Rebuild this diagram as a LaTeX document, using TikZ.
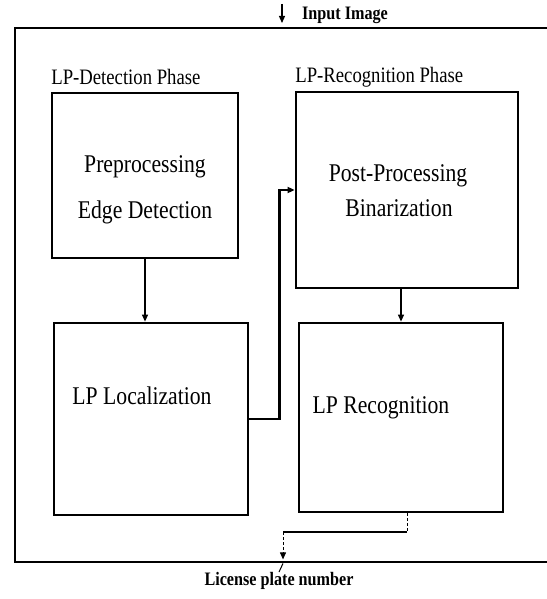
\documentclass[tikz,border=0pt]{standalone}
\usepackage{fontspec}
\setmainfont[FakeStretch=0.85]{Liberation Serif}
\usetikzlibrary{arrows.meta}

\tikzset{every picture/.style={line width=0.75pt}}

\begin{document}
\begin{tikzpicture}[x=1pt,y=1pt,yscale=-1,xscale=1,
  stage/.style={draw,line width=2.8pt,inner sep=0pt},
  boxtext/.style={inner sep=0pt,font=\fontsize{25.5}{30}\selectfont},
  phasetext/.style={anchor=west,inner sep=0pt,font=\fontsize{22}{26}\selectfont},
  iotext/.style={inner sep=0pt,font=\fontsize{19}{23}\selectfont\bfseries},
  tip/.style={-{Triangle[length=7pt,width=6pt]}}]
\useasboundingbox (0,0) rectangle (546,599);

%Shape: Rectangle [outer frame, runs past the right margin]
\node[draw,line width=2.4pt,minimum width=620,minimum height=534,anchor=north west] (frame) at (14,27) {};
%Shape: Rectangle [detection boxes]
\node[stage,minimum width=186,minimum height=165] (det) at (145,175.5) {};
\node[stage,minimum width=194,minimum height=192] (loc) at (151,419) {};
%Shape: Rectangle [recognition boxes]
\node[stage,minimum width=222,minimum height=196] (post) at (407,190) {};
\node[stage,minimum width=204,minimum height=189] (recog) at (401,417.5) {};

% Text Node
\node[phasetext] (dphase) at (51,77) {LP-Detection Phase};
% Text Node
\node[phasetext] (rphase) at (295,77) {LP-Recognition Phase};
% Text Node
\node[boxtext] (pre) at (145,167) {Preprocessing};
% Text Node
\node[boxtext] (edge) at (145,212) {Edge Detection};
% Text Node
\node[boxtext] (postt) at (398,176) {Post-Processing};
% Text Node
\node[boxtext] (bin) at (399,208) {Binarization};
% Text Node
\node[boxtext] (loct) at (142,396) {LP Localization};
% Text Node
\node[boxtext] (rect) at (381,408) {LP Recognition};
% Text Node
\node[iotext] (inp) at (345,15) {Input Image};
% Text Node
\node[iotext] (lpn) at (279,581) {License plate number};

%Straight Lines [input]
\coordinate (inarr) at (282,4);
\draw[tip,line width=1.2pt,shorten >=4pt] (inarr) -- (inarr |- frame.north);
%Straight Lines [between stages]
\draw[tip,line width=1.2pt] (det.south) -- (det.south |- loc.north);
\draw[tip,line width=1.2pt] (recog.north |- post.south) -- (recog.north);
\draw[tip,line width=2.4pt] (loc.east) -- ++(30,0) |- (post.west);
%Straight Lines [output]
\coordinate (bend) at (283,532);
\draw[dash pattern=on 3pt off 2pt,line width=1pt] ([xshift=6pt]recog.south) -- ([xshift=6pt]recog.south |- bend);
\draw[line width=2.4pt] ([xshift=6pt]recog.south |- bend) -- (bend);
\draw[tip,dash pattern=on 3pt off 2pt,line width=1pt,shorten >=4pt] (bend) -- (bend |- frame.south);
\draw[line width=1pt] (bend |- frame.south) -- (lpn.north);

\end{tikzpicture}
\end{document}
